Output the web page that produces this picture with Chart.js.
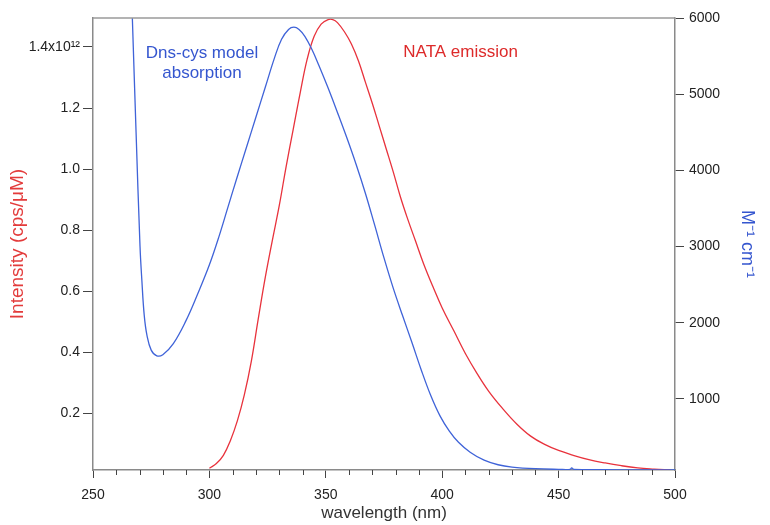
<!DOCTYPE html>
<html>
<head>
<meta charset="utf-8">
<script src="https://cdn.jsdelivr.net/npm/chart.js@4.4.1/dist/chart.umd.min.js"></script>
<style>
    body { margin: 0; background: #ffffff; }
    #caixa { width: 770px; height: 525px; }
</style>
</head>
<body>
<div id="caixa"><canvas id="myChartEspectro"></canvas></div>
<script>
// Dados - absorção Dns-cys (eixo da direita, M-1 cm-1)
const comprimentoAbs = [266.9, 268.5, 270.2, 271.0, 272.0, 273.2, 275.0, 277.4, 280.0, 284.5, 290.0, 295.0, 300.0, 304.0, 308.0, 312.0, 316.0, 320.0, 324.0, 328.0, 331.0, 334.0, 336.3, 338.5, 341.0, 344.0, 347.0, 351.0, 355.0, 359.0, 363.0, 367.0, 371.0, 375.0, 379.0, 383.0, 387.0, 391.0, 395.0, 399.0, 403.0, 407.0, 412.0, 418.0, 424.0, 430.0, 440.0, 450.0, 455.0, 455.6, 456.5, 470.0, 485.0, 500.0];
const absorcao = [6000, 4500, 3000, 2550, 2100, 1830, 1640, 1565, 1580, 1725, 2030, 2380, 2760, 3120, 3520, 3920, 4310, 4700, 5090, 5480, 5720, 5850, 5880, 5850, 5760, 5590, 5380, 5080, 4760, 4430, 4080, 3700, 3280, 2850, 2450, 2090, 1740, 1380, 1050, 780, 580, 430, 300, 195, 135, 105, 83, 75, 75, 95, 75, 70, 68, 66];

// Dados - emissão NATA (eixo da esquerda, x10^12)
const comprimentoEm = [300.0, 303.0, 306.0, 309.0, 312.0, 315.0, 318.0, 321.0, 324.0, 327.0, 330.0, 333.0, 336.0, 339.0, 342.0, 345.0, 348.0, 351.0, 353.0, 355.0, 358.0, 361.0, 364.0, 367.0, 370.0, 373.0, 376.0, 379.0, 382.0, 385.0, 388.5, 392.0, 396.0, 400.0, 405.0, 410.0, 415.0, 420.0, 426.0, 432.0, 438.0, 444.0, 450.0, 456.0, 463.0, 470.0, 477.0, 484.0, 491.0, 498.0];
const emissao = [0.02, 0.035, 0.062, 0.11, 0.175, 0.26, 0.37, 0.51, 0.645, 0.765, 0.88, 1.01, 1.13, 1.25, 1.36, 1.435, 1.475, 1.49, 1.49, 1.48, 1.45, 1.41, 1.355, 1.285, 1.215, 1.14, 1.065, 0.99, 0.91, 0.84, 0.765, 0.69, 0.615, 0.545, 0.47, 0.395, 0.33, 0.272, 0.215, 0.165, 0.125, 0.098, 0.078, 0.063, 0.048, 0.037, 0.028, 0.021, 0.017, 0.014];

// Marcas dos eixos
const ticksX = [250, 300, 350, 400, 450, 500];
const ticksEsquerda = [0.2, 0.4, 0.6, 0.8, 1.0, 1.2, 1.4];
const ticksDireita = [1000, 2000, 3000, 4000, 5000, 6000];

const AZUL = '#3f63d8';
const VERMELHO = '#e8323c';
const FONTE = "'Liberation Sans', Arial, sans-serif";

// monta os pares {x, y}
function juntar(xs, ys) {
    let pontos = [];
    for (let i = 0; i < xs.length; i++) {
        pontos.push({ x: xs[i], y: ys[i] });
    }
    return pontos;
}

// plugin: moldura, marcas menores do eixo x e textos dentro do gráfico
const extras = {
    id: 'extras',
    afterDraw(chart) {
        const ctx = chart.ctx;
        const area = chart.chartArea;
        const x = chart.scales.x;
        const yE = chart.scales.yEsquerda;
        const yD = chart.scales.yDireita;

        ctx.save();
        // linha de cima da moldura
        ctx.strokeStyle = '#9a9a9a';
        ctx.lineWidth = 1.5;
        ctx.beginPath();
        ctx.moveTo(area.left, area.top);
        ctx.lineTo(area.right, area.top);
        ctx.stroke();

        // marcas menores a cada 10 nm
        ctx.strokeStyle = '#444';
        ctx.lineWidth = 1;
        for (let v = 260; v < 500; v += 10) {
            if (v % 50 == 0) continue;
            const px = Math.round(x.getPixelForValue(v)) + 0.5;
            ctx.beginPath();
            ctx.moveTo(px, area.bottom);
            ctx.lineTo(px, area.bottom + 5);
            ctx.stroke();
        }

        // textos das curvas
        ctx.font = '17px ' + FONTE;
        ctx.textAlign = 'center';
        ctx.textBaseline = 'middle';
        ctx.fillStyle = '#3556cf';
        ctx.fillText('Dns-cys model', x.getPixelForValue(296.8), yD.getPixelForValue(5538));
        ctx.fillText('absorption', x.getPixelForValue(296.8), yD.getPixelForValue(5276));
        ctx.fillStyle = '#dd2a2a';
        ctx.fillText('NATA emission', x.getPixelForValue(407.9), yE.getPixelForValue(1.382));
        ctx.restore();
    }
};

function plotarEspectro() {

    let dados = {
        datasets: [{
            label: 'Dns-cys model absorption',
            data: juntar(comprimentoAbs, absorcao),
            yAxisID: 'yDireita',
            borderColor: AZUL,
            borderWidth: 1.3,
            pointRadius: 0,
            tension: 0.4
        }, {
            label: 'NATA emission',
            data: juntar(comprimentoEm, emissao),
            yAxisID: 'yEsquerda',
            borderColor: VERMELHO,
            borderWidth: 1.3,
            pointRadius: 0,
            tension: 0.4
        }]
    };

    const config = {
        type: 'line',
        data: dados,
        plugins: [extras],
        options: {
            responsive: true,
            maintainAspectRatio: false,
            animation: false,
            layout: {
                padding: { top: 18, right: 0, bottom: 0, left: 0 }
            },
            scales: {
                x: {
                    type: 'linear',
                    min: 250,
                    max: 500,
                    afterBuildTicks: (s) => { s.ticks = ticksX.map(v => ({ value: v })); },
                    afterFit: (s) => { s.height = 55; },
                    grid: { drawOnChartArea: false, tickLength: 8, tickColor: '#444' },
                    border: { color: '#8a8a8a', width: 1.5 },
                    ticks: { color: '#222', padding: 9, maxRotation: 0, font: { family: FONTE, size: 14 } },
                    title: {
                        display: true,
                        text: 'wavelength (nm)',
                        color: '#333',
                        font: { family: FONTE, size: 17 },
                        padding: { top: 0, bottom: 1 }
                    }
                },
                yEsquerda: {
                    type: 'linear',
                    position: 'left',
                    min: 0.014,
                    max: 1.495,
                    afterBuildTicks: (s) => { s.ticks = ticksEsquerda.map(v => ({ value: v })); },
                    afterFit: (s) => { s.width = 93; },
                    grid: { drawOnChartArea: false, tickLength: 10, tickColor: '#444' },
                    border: { color: '#8a8a8a', width: 1.5 },
                    ticks: {
                        color: '#222',
                        padding: 3,
                        font: { family: FONTE, size: 14 },
                        callback: (v) => v == 1.4 ? '1.4x10\u00b9\u00b2' : v.toFixed(1)
                    },
                    title: {
                        display: true,
                        text: 'Intensity (cps/\u03bcM)',
                        color: '#e33b3b',
                        font: { family: FONTE, size: 19 },
                        padding: { top: 6, bottom: 0 }
                    }
                },
                yDireita: {
                    type: 'linear',
                    position: 'right',
                    min: 66,
                    max: 6000,
                    afterBuildTicks: (s) => { s.ticks = ticksDireita.map(v => ({ value: v })); },
                    afterFit: (s) => { s.width = 95; },
                    grid: { drawOnChartArea: false, tickLength: 9, tickColor: '#444' },
                    border: { color: '#8a8a8a', width: 1.5 },
                    ticks: {
                        color: '#222',
                        padding: 5,
                        font: { family: FONTE, size: 14 },
                        callback: (v) => String(v)
                    },
                    title: {
                        display: true,
                        text: 'M\u207b\u00b9 cm\u207b\u00b9',
                        color: '#3556cf',
                        font: { family: FONTE, size: 18 },
                        padding: { top: 12, bottom: 0 }
                    }
                }
            },
            plugins: {
                legend: { display: false },
                tooltip: { enabled: false }
            }
        }
    };

    // Adicionando gráfico criado em div na tela
    var graficoEspectro = new Chart(document.getElementById('myChartEspectro').getContext('2d'),
        config
    );
}

plotarEspectro();
</script>
</body>
</html>
